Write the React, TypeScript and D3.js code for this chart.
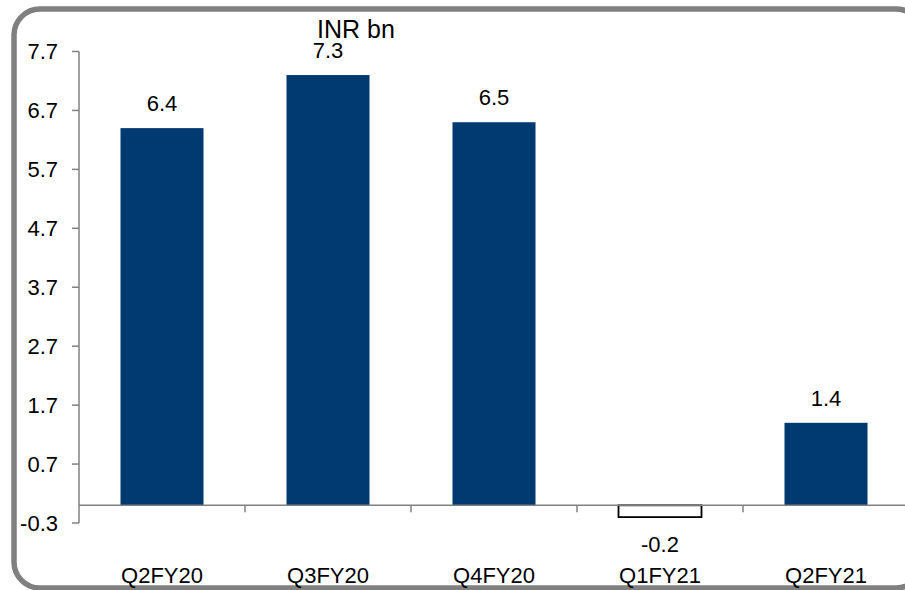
import React from "react";
import * as d3 from "d3";

const categories = ["Q2FY20", "Q3FY20", "Q4FY20", "Q1FY21", "Q2FY21"];
const values = [6.4, 7.3, 6.5, -0.2, 1.4];
const valueLabels = ["6.4", "7.3", "6.5", "-0.2", "1.4"];
const yTicks = [-0.3, 0.7, 1.7, 2.7, 3.7, 4.7, 5.7, 6.7, 7.7];
const unitLabel = "INR bn";

const W = 905;
const H = 590;
const FONT = "'Liberation Sans', Arial, sans-serif";
const BAR = "#003a70";
const GRAY = "#808080";

export default function App() {
  const x = d3.scaleBand<string>().domain(categories).range([79, 909]).paddingInner(0.5).paddingOuter(0.25);
  const y = d3.scaleLinear().domain([-0.3, 7.7]).range([523, 51.5]);
  const y0 = y(0);
  const step = x.step();
  const bandStarts = categories.map((c) => (x(c) as number) - step * 0.25);

  return (
    <svg width={W} height={H} style={{ position: "absolute", left: 0, top: 0 }} fontFamily={FONT}>
      <rect x={0} y={0} width={W} height={H} fill="#fff" />
      <rect x={14} y={9} width={908} height={579} rx={26} ry={26} fill="none" stroke={GRAY} strokeWidth={5.5} />
      {/* y axis */}
      <line x1={79} x2={79} y1={y(7.7)} y2={y(-0.3)} stroke={GRAY} strokeWidth={1.5} />
      {yTicks.map((t) => (
        <g key={t}>
          <line x1={72} x2={79} y1={y(t)} y2={y(t)} stroke={GRAY} strokeWidth={1.5} />
          <text x={58} y={y(t)} dy="0.36em" textAnchor="end" fontSize={22} fill="#000">
            {t.toFixed(1)}
          </text>
        </g>
      ))}
      {/* bars */}
      {categories.map((c, i) => {
        const v = values[i];
        const top = Math.min(y(v), y0);
        const h = Math.abs(y(v) - y0);
        const neg = v < 0;
        return (
          <rect
            key={c}
            x={x(c) as number}
            y={top}
            width={x.bandwidth()}
            height={h}
            fill={neg ? "#fff" : BAR}
            stroke={neg ? "#000" : "none"}
            strokeWidth={neg ? 1.8 : 0}
          />
        );
      })}
      {/* x axis */}
      <line x1={79} x2={W} y1={y0} y2={y0} stroke={GRAY} strokeWidth={1.5} />
      {bandStarts.slice(1).map((bx, i) => (
        <line key={i} x1={bx} x2={bx} y1={y0} y2={y0 + 7} stroke={GRAY} strokeWidth={1.5} />
      ))}
      {/* value labels */}
      {categories.map((c, i) => {
        const v = values[i];
        const cx = (x(c) as number) + x.bandwidth() / 2;
        const ly = v >= 0 ? y(v) - 17 : y(v) + 35;
        return (
          <text key={c} x={cx} y={ly} textAnchor="middle" fontSize={22} fill="#000">
            {valueLabels[i]}
          </text>
        );
      })}
      {/* category labels */}
      {categories.map((c) => (
        <text key={c} x={(x(c) as number) + x.bandwidth() / 2} y={583} textAnchor="middle" fontSize={22} fill="#000">
          {c}
        </text>
      ))}
      <text x={356} y={38} textAnchor="middle" fontSize={25} fill="#000">
        {unitLabel}
      </text>
    </svg>
  );
}
